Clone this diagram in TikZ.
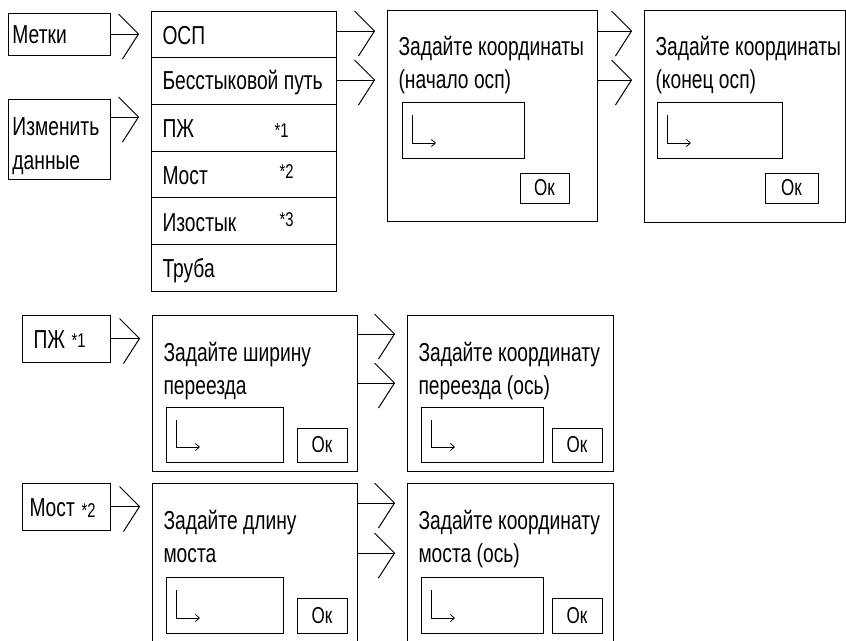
\documentclass[tikz,border=0pt]{standalone}
\usepackage{fontspec}
\setmainfont[FakeStretch=0.74]{Liberation Sans}
\usetikzlibrary{arrows.meta,calc}
\pgfarrowsdeclare{chev}{chev}{\pgfarrowsleftextend{-21pt}\pgfarrowsrightextend{0.5pt}}{%
  \pgfsetdash{}{0pt}\pgfsetmiterjoin
  \pgfpathmoveto{\pgfpoint{-20pt}{20pt}}%
  \pgfpathlineto{\pgfpointorigin}%
  \pgfpathlineto{\pgfpoint{-16pt}{-25pt}}%
  \pgfusepathqstroke}
\newcommand\frm[5]{\node[frame, minimum width={(#4-#2)*1pt}, minimum height={(#5-#3)*1pt}] (#1) at (#2,#3) {};}
\begin{document}
\begin{tikzpicture}[x=1pt,y=-1pt, line width=1pt,
  frame/.style={draw, inner sep=0pt, outer sep=0pt, anchor=north west},
  txt/.style={inner sep=0pt, anchor=base west, font=\fontsize{26}{28}\selectfont},
  star/.style={inner sep=0pt, anchor=base west, font=\fontsize{20}{22}\selectfont},
  oktxt/.style={inner sep=0pt, font=\fontsize{23}{24}\selectfont},
  conn/.style={-chev, shorten >=12pt},
  corner/.style={-{Straight Barb[length=4pt,width=7pt]}, line width=0.8pt}]
\clip (0,0) rectangle (846,640);
% ---------- top left labels
\frm{metki}{8}{13}{110}{55}
\node[txt] (tmetki) at (12,43) {Метки};
\frm{izm}{8}{99}{110}{179}
\node[txt] (tizm1) at (12,135) {Изменить};
\node[txt] (tizm2) at (12,169) {данные};
% ---------- menu
\frm{r1}{151}{11}{336}{57.67}
\frm{r2}{151}{57.67}{336}{104.33}
\frm{r3}{151}{104.33}{336}{151}
\frm{r4}{151}{151}{336}{197.67}
\frm{r5}{151}{197.67}{336}{244.33}
\frm{r6}{151}{244.33}{336}{291}
\node[txt] (t1) at (162,44) {ОСП};
\node[txt] (t2) at (162,89) {Бесстыковой путь};
\node[txt] (t3) at (162,137) {ПЖ};
\node[txt] (t4) at (162,184) {Мост};
\node[txt] (t5) at (162,231) {Изостык};
\node[txt] (t6) at (162,277) {Труба};
\node[star] (s1) at (274,137) {*1};
\node[star] (s2) at (279,178) {*2};
\node[star] (s3) at (279,226) {*3};
% ---------- dialog 1
\frm{b1}{387}{10}{597}{221}
\node[txt] (b1a) at (398,55) {Задайте координаты};
\node[txt] (b1b) at (398,88) {(начало осп)};
\frm{in1}{402}{102}{524}{158}
\frm{ok1}{520}{173}{569}{203}
\node[oktxt] (ok1t) at (ok1) {Ок};
% ---------- dialog 2
\frm{b2}{644}{10}{845}{222}
\node[txt] (b2a) at (655,55) {Задайте координаты};
\node[txt] (b2b) at (655,88) {(конец осп)};
\frm{in2}{657}{102}{782}{158}
\frm{ok2}{765}{173}{818}{203}
\node[oktxt] (ok2t) at (ok2) {Ок};
% ---------- lower labels
\frm{pzh}{22}{315}{110}{362}
\node[txt] (tpzh) at (33,348) {ПЖ};
\node[star] (tpzh1) at (71,347) {*1};
\frm{most}{22}{483}{110}{530}
\node[txt] (tmost) at (29,516) {Мост};
\node[star] (tmost2) at (81,517) {*2};
% ---------- dialog 3
\frm{b3}{152}{315}{357}{471}
\node[txt] (b3a) at (163,361) {Задайте ширину};
\node[txt] (b3b) at (163,394) {переезда};
\frm{in3}{166}{407}{283}{462}
\frm{ok3}{297}{428}{347}{462}
\node[oktxt] (ok3t) at (ok3) {Ок};
% ---------- dialog 4
\frm{b4}{407}{315}{613}{471}
\node[txt] (b4a) at (418,361) {Задайте координату};
\node[txt] (b4b) at (418,394) {переезда (ось)};
\frm{in4}{421}{407}{543}{462}
\frm{ok4}{552}{428}{602}{462}
\node[oktxt] (ok4t) at (ok4) {Ок};
% ---------- dialog 5
\frm{b5}{152}{483}{357}{660}
\node[txt] (b5a) at (163,529) {Задайте длину};
\node[txt] (b5b) at (163,562) {моста};
\frm{in5}{166}{577}{283}{633}
\frm{ok5}{297}{598}{347}{633}
\node[oktxt] (ok5t) at (ok5) {Ок};
% ---------- dialog 6
\frm{b6}{407}{483}{613}{660}
\node[txt] (b6a) at (418,529) {Задайте координату};
\node[txt] (b6b) at (418,562) {моста (ось)};
\frm{in6}{421}{577}{543}{633}
\frm{ok6}{552}{598}{602}{633}
\node[oktxt] (ok6t) at (ok6) {Ок};
% ---------- corner symbols
\foreach \n in {in1,in2,in3,in4,in5,in6}
  \draw[corner] ($(\n.north west)+(10,13)$) |- ($(\n.south west)+(34,-15)$);
% ---------- connectors
\coordinate (yiz) at (0,117);
\coordinate (ya) at (0,31);
\coordinate (yb) at (0,80);
\coordinate (yc) at (0,334);
\coordinate (yd) at (0,383);
\coordinate (ye) at (0,503);
\coordinate (yf) at (0,553);
\draw[conn] (metki.east) -- (metki.east -| r1.west);
\draw[conn] (izm.east |- yiz) -- (r3.west |- yiz);
\draw[conn] (r1.east |- ya) -- (b1.west |- ya);
\draw[conn] (r2.east |- yb) -- (b1.west |- yb);
\draw[conn] (b1.east |- ya) -- (b2.west |- ya);
\draw[conn] (b1.east |- yb) -- (b2.west |- yb);
\draw[conn] (pzh.east) -- (pzh.east -| b3.west);
\draw[conn] (most.east) -- (most.east -| b5.west);
\draw[conn] (b3.east |- yc) -- (b4.west |- yc);
\draw[conn] (b3.east |- yd) -- (b4.west |- yd);
\draw[conn] (b5.east |- ye) -- (b6.west |- ye);
\draw[conn] (b5.east |- yf) -- (b6.west |- yf);
\end{tikzpicture}
\end{document}
